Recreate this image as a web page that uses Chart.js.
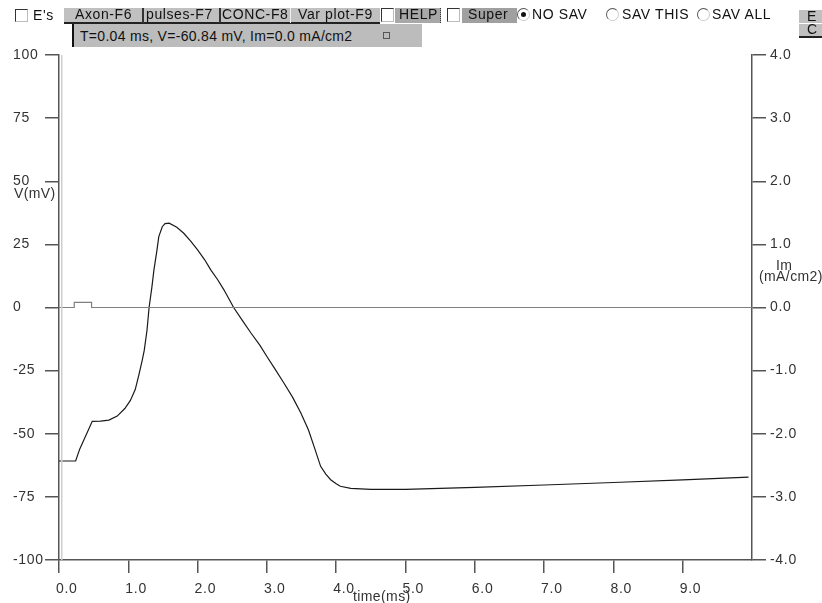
<!DOCTYPE html>
<html>
<head>
<meta charset="utf-8">
<script src="https://cdn.jsdelivr.net/npm/chart.js@4/dist/chart.umd.min.js"></script>
<style>
  body { margin: 0; background: #fff; font-family: Arial, "Liberation Sans", sans-serif; }
  #wrap { position: relative; width: 822px; height: 603px; overflow: hidden; }
  #chart { position: absolute; left: 0; top: 0; }
  .t { position: absolute; font-size: 14px; color: #111; white-space: nowrap; line-height: 16px; letter-spacing: 0.6px; }
  .box { position: absolute; width: 11px; height: 11px; background: #fff; border: 1px solid #333; border-right-color: #bbb; border-bottom-color: #bbb; }
  .radio { position: absolute; width: 11px; height: 11px; border-radius: 50%; border: 1px solid #555; border-right-color: #ccc; border-bottom-color: #ccc; background: #fff; }
  .dot { position: absolute; left: 3px; top: 3px; width: 5px; height: 5px; border-radius: 50%; background: #111; }
  .gray { position: absolute; background: #c0c0c0; }
  .axt { position: absolute; font-size: 14px; color: #333; white-space: nowrap; line-height: 14px; letter-spacing: 0.4px; }
</style>
</head>
<body>
<div id="wrap">
  <canvas id="chart" width="822" height="603"></canvas>

  <!-- toolbar row 1 -->
  <div class="box" style="left:15px;top:9px;"></div>
  <div class="t" style="left:33px;top:7px;">E's</div>
  <div class="gray" style="left:64px;top:8px;width:316px;height:14px;border-bottom:2px solid #222;"></div>
  <div class="t" style="left:75px;top:6px;">Axon-F6</div>
  <div class="gray" style="left:142px;top:8px;width:2px;height:15px;background:#333;"></div>
  <div class="t" style="left:146px;top:6px;">pulses-F7</div>
  <div class="gray" style="left:219px;top:8px;width:2px;height:15px;background:#333;"></div>
  <div class="t" style="left:222px;top:6px;">CONC-F8</div>
  <div class="gray" style="left:290px;top:8px;width:1px;height:15px;background:#eee;"></div>
  <div class="t" style="left:298px;top:6px;">Var plot-F9</div>
  <div class="box" style="left:381px;top:8px;width:11px;height:12px;"></div>
  <div class="gray" style="left:395px;top:8px;width:45px;height:15px;background:#a8a8a8;border-right:1px dotted #333;"></div>
  <div class="t" style="left:399px;top:6px;">HELP</div>
  <div class="box" style="left:447px;top:8px;width:11px;height:12px;"></div>
  <div class="gray" style="left:462px;top:8px;width:55px;height:15px;background:#a0a0a0;"></div>
  <div class="t" style="left:468px;top:6px;">Super</div>
  <div class="radio" style="left:517px;top:8px;"><div class="dot"></div></div>
  <div class="t" style="left:532px;top:6px;">NO SAV</div>
  <div class="radio" style="left:606px;top:8px;"></div>
  <div class="t" style="left:622px;top:6px;">SAV THIS</div>
  <div class="radio" style="left:697px;top:8px;"></div>
  <div class="t" style="left:712px;top:6px;">SAV ALL</div>
  <div class="gray" style="left:799px;top:10px;width:23px;height:13px;"></div>
  <div class="t" style="left:807px;top:8px;">E</div>
  <div class="gray" style="left:799px;top:24px;width:23px;height:12px;border-bottom:2px solid #222;"></div>
  <div class="t" style="left:807px;top:21px;">C</div>

  <!-- toolbar row 2 -->
  <div class="gray" style="left:72px;top:24px;width:348px;height:23px;background:#bcbcbc;border-left:2px solid #111;"></div>
  <div class="t" style="left:80px;top:28px;letter-spacing:0.3px;">T=0.04 ms, V=-60.84 mV, Im=0.0 mA/cm2</div>
  <div style="position:absolute;left:383px;top:32px;width:5px;height:5px;border:1px solid #555;"></div>

  <!-- axis titles -->
  <div class="axt" style="left:14px;top:186px;">V(mV)</div>
  <div class="axt" style="left:776px;top:258px;">Im</div>
  <div class="axt" style="left:759px;top:269px;">(mA/cm2)</div>
  <div class="axt" style="left:353px;top:589px;">time(ms)</div>
</div>

<script>
// membrane potential trace (ms, mV)
const timeMs = [0, 0.24, 0.30, 0.36, 0.48, 0.60, 0.72, 0.84, 0.95, 1.03, 1.10, 1.15, 1.20, 1.23, 1.27, 1.30, 1.34, 1.37, 1.41, 1.44, 1.49, 1.53, 1.59, 1.70, 1.80, 1.90, 2.0, 2.10, 2.19, 2.29, 2.38, 2.52, 2.65, 2.77, 2.90, 3.0, 3.12, 3.245, 3.37, 3.49, 3.60, 3.68, 3.775, 3.85, 3.92, 4.0, 4.06, 4.21, 4.5, 5.0, 6.0, 7.0, 8.0, 9.0, 9.95];
const vm =     [-60.8, -60.8, -56, -52.4, -45.1, -45.0, -44.6, -43.0, -40.0, -36.8, -32.5, -27, -21, -17, -9, 0, 8, 14.9, 22, 28.1, 32.0, 33.2, 33.4, 31.8, 29.4, 26.3, 22.8, 19.0, 14.9, 11.0, 7.0, 0, -5.3, -10.1, -15.0, -19.4, -24.5, -29.9, -35.5, -41.8, -48.5, -55, -62.9, -66.0, -68.2, -69.8, -70.8, -71.6, -72.0, -72.0, -71.2, -70.3, -69.3, -68.3, -67.2];

// stimulus current (ms, mA/cm2)
const imTime = [0, 0.22, 0.22, 0.47, 0.47, 10];
const im =     [0, 0, 0.08, 0.08, 0, 0];

// time cursor
const cursorT = 0.04;

const vTicks = [-100, -75, -50, -25, 0, 25, 50, 75, 100];
const imTicks = [-4, -3, -2, -1, 0, 1, 2, 3, 4];
const timeTicks = [0, 1, 2, 3, 4, 5, 6, 7, 8, 9];

const axisColor = '#555';
const labelFont = { family: 'Arial, "Liberation Sans", sans-serif', size: 14 };

// slightly wider tick text, like the applet font
const spacing = {
  id: 'spacing',
  beforeDraw: chart => { chart.ctx.letterSpacing = '0.7px'; }
};

const ctx = document.getElementById('chart');
new Chart(ctx, {
  type: 'line',
  data: {
    datasets: [
      {
        data: [{ x: cursorT, y: -100 }, { x: cursorT, y: 100 }],
        yAxisID: 'y',
        borderColor: '#cfcfcf',
        borderWidth: 1.5,
        pointRadius: 0
      },
      {
        data: imTime.map((t, i) => ({ x: t, y: im[i] })),
        yAxisID: 'y2',
        borderColor: '#808080',
        borderWidth: 1.2,
        pointRadius: 0
      },
      {
        data: timeMs.map((t, i) => ({ x: t, y: vm[i] })),
        yAxisID: 'y',
        borderColor: '#1a1a1a',
        borderWidth: 1.2,
        pointRadius: 0,
        tension: 0
      }
    ]
  },
  options: {
    responsive: false,
    animation: false,
    devicePixelRatio: 1,
    layout: { padding: { left: 13, top: 55, right: 0, bottom: 0 } },
    plugins: { legend: { display: false }, tooltip: { enabled: false } },
    scales: {
      x: {
        type: 'linear',
        position: 'bottom',
        min: 0,
        max: 10,
        afterBuildTicks: s => { s.ticks = timeTicks.map(v => ({ value: v })); },
        afterFit: s => { s.height = 43; },
        ticks: { callback: v => v.toFixed(1), color: '#333', font: labelFont, padding: 8, maxRotation: 0, autoSkip: false, align: 'start', labelOffset: -3 },
        grid: { drawOnChartArea: false, tickLength: 13, color: axisColor, lineWidth: 1.5 },
        border: { color: axisColor, width: 1.5 }
      },
      y: {
        position: 'left',
        min: -100,
        max: 100,
        afterBuildTicks: s => { s.ticks = vTicks.map(v => ({ value: v })); },
        afterFit: s => { s.width = 46; },
        ticks: { color: '#333', font: labelFont, crossAlign: 'far', autoSkip: false },
        grid: { drawOnChartArea: false, tickLength: 14, color: axisColor, lineWidth: 1.5 },
        border: { color: axisColor, width: 1.5 }
      },
      y2: {
        position: 'right',
        min: -4,
        max: 4,
        afterBuildTicks: s => { s.ticks = imTicks.map(v => ({ value: v })); },
        afterFit: s => { s.width = 70; },
        ticks: { callback: v => v.toFixed(1), color: '#333', font: labelFont, padding: 4, autoSkip: false },
        grid: { drawOnChartArea: false, tickLength: 14, color: axisColor, lineWidth: 1.5 },
        border: { color: axisColor, width: 1.5 }
      }
    }
  },
  plugins: [spacing]
});
</script>
</body>
</html>
